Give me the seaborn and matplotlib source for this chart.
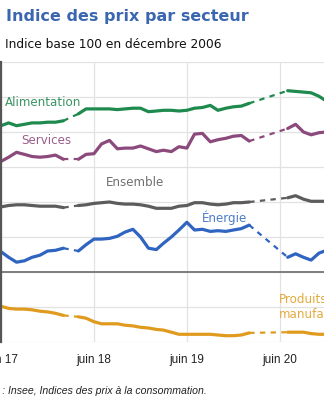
import numpy as np
import pandas as pd
import matplotlib
matplotlib.use("Agg")
import matplotlib.pyplot as plt
import seaborn as sns

nan = np.nan
months = pd.date_range("2017-06-01", "2020-12-01", freq="MS")

alimentation = [120.9, 121.3, 120.9, 121.1, 121.3, 121.3, 121.4, 121.4, 121.6, nan,
                122.6, 123.3, 123.3, 123.3, 123.3, 123.2, 123.3, 123.4, 123.4, 122.9,
                123.0, 123.1, 123.1, 123.0, 123.1, 123.4, 123.5, 123.8, 123.1, 123.4,
                123.6, 123.7, 124.1, nan, nan, nan, nan, 125.9, 125.8, 125.7,
                125.6, 125.1, 124.4]
services = [115.8, 116.4, 117.1, 116.8, 116.5, 116.4, 116.5, 116.7, 116.1, nan,
            116.1, 116.8, 116.9, 118.3, 118.8, 117.6, 117.7, 117.7, 118.0, 117.6,
            117.2, 117.4, 117.2, 117.9, 117.7, 119.7, 119.8, 118.6, 118.9, 119.1,
            119.4, 119.5, 118.7, nan, nan, nan, nan, 120.5, 121.1, 120.0,
            119.6, 119.9, 120.0]
ensemble = [109.3, 109.5, 109.6, 109.6, 109.5, 109.4, 109.4, 109.4, 109.2, nan,
            109.5, 109.6, 109.8, 109.9, 110.0, 109.8, 109.7, 109.7, 109.6, 109.4,
            109.1, 109.1, 109.1, 109.4, 109.5, 109.9, 109.9, 109.7, 109.6, 109.7,
            109.9, 109.9, 110.0, nan, nan, nan, nan, 110.6, 110.9, 110.4,
            110.1, 110.1, 110.1]
energie = [102.9, 102.1, 101.4, 101.6, 102.1, 102.4, 103.0, 103.1, 103.4, nan,
           103.0, 103.9, 104.7, 104.7, 104.8, 105.1, 105.7, 106.1, 105.0, 103.4,
           103.2, 104.1, 105.0, 106.0, 107.1, 106.0, 106.1, 105.8, 105.9, 105.8,
           106.0, 106.2, 106.7, nan, nan, nan, nan, 102.1, 102.6, 102.1,
           101.7, 102.7, 103.1]
manufactures = [95.1, 94.8, 94.7, 94.7, 94.6, 94.4, 94.3, 94.1, 93.8, nan,
                93.6, 93.4, 92.9, 92.6, 92.6, 92.6, 92.4, 92.3, 92.1, 92.0,
                91.8, 91.7, 91.4, 91.1, 91.1, 91.1, 91.1, 91.1, 91.0, 90.9,
                90.9, 91.0, 91.3, nan, nan, nan, nan, 91.4, 91.4, 91.4,
                91.2, 91.1, 91.1]

series_names = ["Alimentation", "Services", "Ensemble", "Énergie", "Produits manufacturés"]
series_values = [alimentation, services, ensemble, energie, manufactures]
line_colors = ["#1f8a4d", "#8c4a7c", "#5c5c5c", "#2f64c0", "#e09b1f"]
label_colors = ["#3a9463", "#9a5d8b", "#6e6e6e", "#4c7bc6", "#e3aa3d"]

tick_dates = pd.to_datetime(["2017-06-01", "2018-06-01", "2019-06-01", "2020-06-01"])
tick_labels = ["juin 17", "juin 18", "juin 19", "juin 20"]

# build long tables: solid segments and dashed gap connectors
solid_rows, dash_rows = [], []
for name, vals in zip(series_names, series_values):
    v = np.array(vals, dtype=float)
    seg = 0
    prev_valid = None
    for i, (d, y) in enumerate(zip(months, v)):
        if np.isnan(y):
            continue
        if prev_valid is not None and prev_valid != i - 1:
            seg += 1
            dash_rows.append(dict(date=months[prev_valid], value=v[prev_valid], serie=name, unit=f"{name}-{seg}"))
            dash_rows.append(dict(date=d, value=y, serie=name, unit=f"{name}-{seg}"))
        solid_rows.append(dict(date=d, value=y, serie=name, unit=f"{name}-{seg}"))
        prev_valid = i
solid = pd.DataFrame(solid_rows)
dash = pd.DataFrame(dash_rows)
palette = dict(zip(series_names, line_colors))

sns.set_style("white")
plt.rcParams["font.family"] = ["DejaVu Sans"]

W, H = 324, 400
fig = plt.figure(figsize=(W / 100, H / 100), dpi=100)
ax = fig.add_axes([1 / W, 58 / H, 372 / W, 280 / H])

sns.lineplot(data=dash, x="date", y="value", hue="serie", units="unit", estimator=None,
             palette=palette, linewidth=1.6, linestyle=(0, (2.4, 2.4)), legend=False, ax=ax)
sns.lineplot(data=solid, x="date", y="value", hue="serie", units="unit", estimator=None,
             palette=palette, linewidth=2.3, legend=False, ax=ax)

ax.set_ylim(90, 130)
ax.set_xlim(pd.Timestamp("2017-06-01"), pd.Timestamp("2021-06-01"))
ax.set_yticks(np.arange(90, 131, 5))
ax.set_yticklabels([])
ax.set_xticks(tick_dates)
ax.set_xticklabels(tick_labels, family="Liberation Sans", fontsize=8.5, color="#222222")
ax.tick_params(axis="both", length=0)
ax.tick_params(axis="x", pad=9)
ax.grid(True, color="#e2e2e2", linewidth=0.9)
ax.set_axisbelow(True)
for s in ["top", "right", "bottom"]:
    ax.spines[s].set_visible(False)
ax.spines["left"].set_color("#555555")
ax.spines["left"].set_linewidth(1.6)
ax.axhline(100, color="#7e7e7e", linewidth=1.4, zorder=1)
ax.set_xlabel("")
ax.set_ylabel("")

def fx(px):
    return px / W

def fy(py):
    return 1 - py / H

fig.text(fx(6), fy(16), "Indice des prix par secteur", fontsize=11.5, fontweight="bold",
         color="#3b67b0", va="center", ha="left")
fig.text(fx(5), fy(45), "Indice base 100 en décembre 2006", fontsize=8.8,
         color="#111111", va="center", ha="left")

label_pos = [(5, 103, "Alimentation"), (21, 141, "Services"), (106, 183, "Ensemble"),
             (202, 218, "Énergie"), (279, 307, "Produits\nmanufacturés")]
for (x, y, txt), c in zip(label_pos, label_colors):
    fig.text(fx(x), fy(y), txt, fontsize=8.6, color=c, va="center", ha="left",
             linespacing=1.15)

# source line, shifted so that the colon lands near the left edge
src = fig.text(0, fy(391), "Source : Insee, Indices des prix à la consommation.",
               fontsize=7.6, style="italic", family="Liberation Sans", color="#222222",
               va="center", ha="left")
fig.canvas.draw()
r = fig.canvas.get_renderer()
tmp = fig.text(0, 0, "Source ", fontsize=7.6, style="italic", family="Liberation Sans")
wpx = tmp.get_window_extent(renderer=r).width
tmp.remove()
src.set_x(fx(2 - wpx))

fig.savefig("out.png", dpi=100)
